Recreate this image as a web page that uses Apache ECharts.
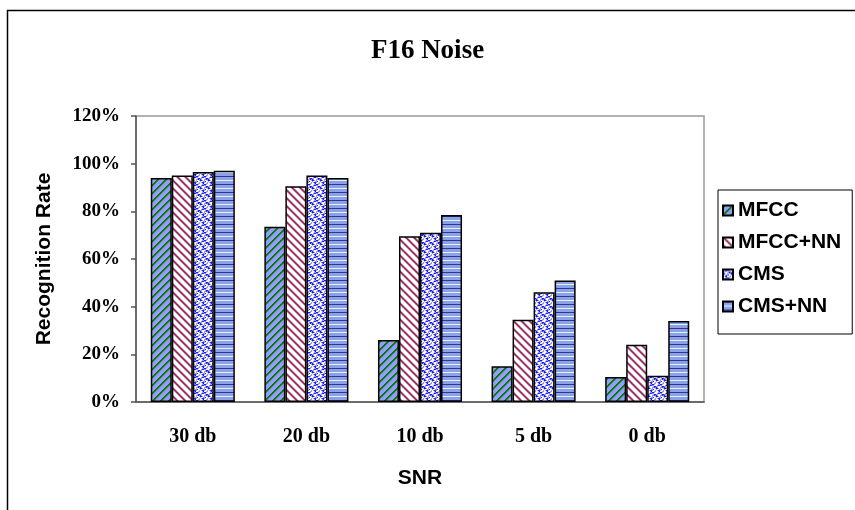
<!DOCTYPE html>
<html>
<head>
<meta charset="utf-8">
<script src="https://cdn.jsdelivr.net/npm/echarts@6/dist/echarts.min.js"></script>
<style>
html, body { margin: 0; padding: 0; background: #fff; }
#chart { width: 855px; height: 510px; }
</style>
</head>
<body>
<div id="chart"></div>
<script>
var categories = ['30 db', '20 db', '10 db', '5 db', '0 db'];
var seriesNames = ['MFCC', 'MFCC+NN', 'CMS', 'CMS+NN'];
var mfcc = [94, 73.5, 26, 15, 10.5];
var mfccNN = [95, 90.5, 69.5, 34.5, 24];
var cms = [96.5, 95, 71, 46, 11];
var cmsNN = [97, 94, 78.5, 51, 34];
var yTicks = [0, 20, 40, 60, 80, 100, 120];

// build a small repeating tile, pixel by pixel
function makePattern(w, h, fn) {
    var c = document.createElement('canvas');
    c.width = w; c.height = h;
    var ctx = c.getContext('2d');
    for (var y = 0; y < h; y++) {
        for (var x = 0; x < w; x++) {
            ctx.fillStyle = fn(x, y);
            ctx.fillRect(x, y, 1, 1);
        }
    }
    return { image: c, repeat: 'repeat' };
}

var greenStripe = makePattern(8, 8, function (x, y) {
    var k = (x + y) % 8;
    if (k < 2) return '#008000';
    if (k == 2) return '#4d8c80';
    return '#9999ff';
});
var pinkStripe = makePattern(8, 8, function (x, y) {
    var k = (x - y + 16) % 8;
    if (k < 2) return '#993366';
    if (k == 2 || k == 7) return '#d9a6bf';
    return '#ffffff';
});
var dotMap = [
    'yyppbbpy',
    'ypbbppyy',
    'ppyyypbb',
    'bpyyppbp',
    'bbpypyyp',
    'pyyppbyy',
    'ypbbpyyp',
    'yypbyypp'
];
var dotColors = { y: '#ffffcc', p: '#9999ff', b: '#1a1aff' };
var dotted = makePattern(8, 8, function (x, y) {
    return dotColors[dotMap[y].charAt(x)];
});
var hStripe = makePattern(8, 8, function (x, y) {
    if (y == 0) return '#333399';
    if (y == 4) return '#ccffff';
    return '#8f9fe8';
});

var fills = [greenStripe, pinkStripe, dotted, hStripe];
var values = [mfcc, mfccNN, cms, cmsNN];

var chart = echarts.init(document.getElementById('chart'));

var series = [];
for (var i = 0; i < seriesNames.length; i++) {
    series.push({
        name: seriesNames[i],
        type: 'bar',
        data: values[i],
        barGap: '0%',
        barCategoryGap: '26%',
        itemStyle: {
            color: fills[i],
            borderColor: '#000',
            borderWidth: 1.5
        }
    });
}

var sansBold = {
    fontFamily: 'Liberation Sans',
    fontWeight: 'bold',
    fontSize: 21,
    color: '#000'
};

option = {
    backgroundColor: '#fff',
    animation: false,
    title: {
        text: 'F16 Noise',
        left: 'center',
        top: 33,
        textStyle: {
            fontFamily: 'Liberation Serif',
            fontWeight: 'bold',
            fontSize: 27,
            color: '#000'
        }
    },
    legend: {
        orient: 'vertical',
        left: 718,
        top: 190,
        padding: [10, 11, 17, 4],
        itemGap: 11,
        itemWidth: 10,
        itemHeight: 10,
        borderColor: '#000',
        borderWidth: 1,
        icon: 'rect',
        data: seriesNames,
        textStyle: sansBold
    },
    grid: {
        left: 136,
        right: 151,
        top: 116,
        bottom: 108,
        show: true,
        borderColor: '#999',
        borderWidth: 1.5
    },
    xAxis: {
        type: 'category',
        data: categories,
        name: 'SNR',
        nameLocation: 'middle',
        nameGap: 66,
        nameTextStyle: sansBold,
        axisLine: { lineStyle: { color: '#555', width: 1.5 } },
        axisTick: { length: 6, lineStyle: { color: '#555', width: 1.5 } },
        axisLabel: {
            margin: 25,
            fontFamily: 'Liberation Serif',
            fontWeight: 'bold',
            fontSize: 20,
            color: '#000'
        }
    },
    yAxis: {
        type: 'value',
        min: yTicks[0],
        max: yTicks[yTicks.length - 1],
        interval: 20,
        name: 'Recognition Rate',
        nameLocation: 'middle',
        nameGap: 81,
        nameTextStyle: sansBold,
        axisLine: { show: true, lineStyle: { color: '#555', width: 1.5 } },
        axisTick: { show: true, length: 5, lineStyle: { color: '#555', width: 1.5 } },
        splitLine: { show: false },
        axisLabel: {
            margin: 16,
            formatter: '{value}%',
            fontFamily: 'Liberation Serif',
            fontWeight: 'bold',
            fontSize: 19,
            color: '#000'
        }
    },
    graphic: [{
        type: 'polyline',
        shape: { points: [[7.5, 510], [7.5, 10.5], [855, 10.5]] },
        style: { fill: null, stroke: '#000', lineWidth: 1.5 }
    }],
    series: series
};

chart.setOption(option);
</script>
</body>
</html>
